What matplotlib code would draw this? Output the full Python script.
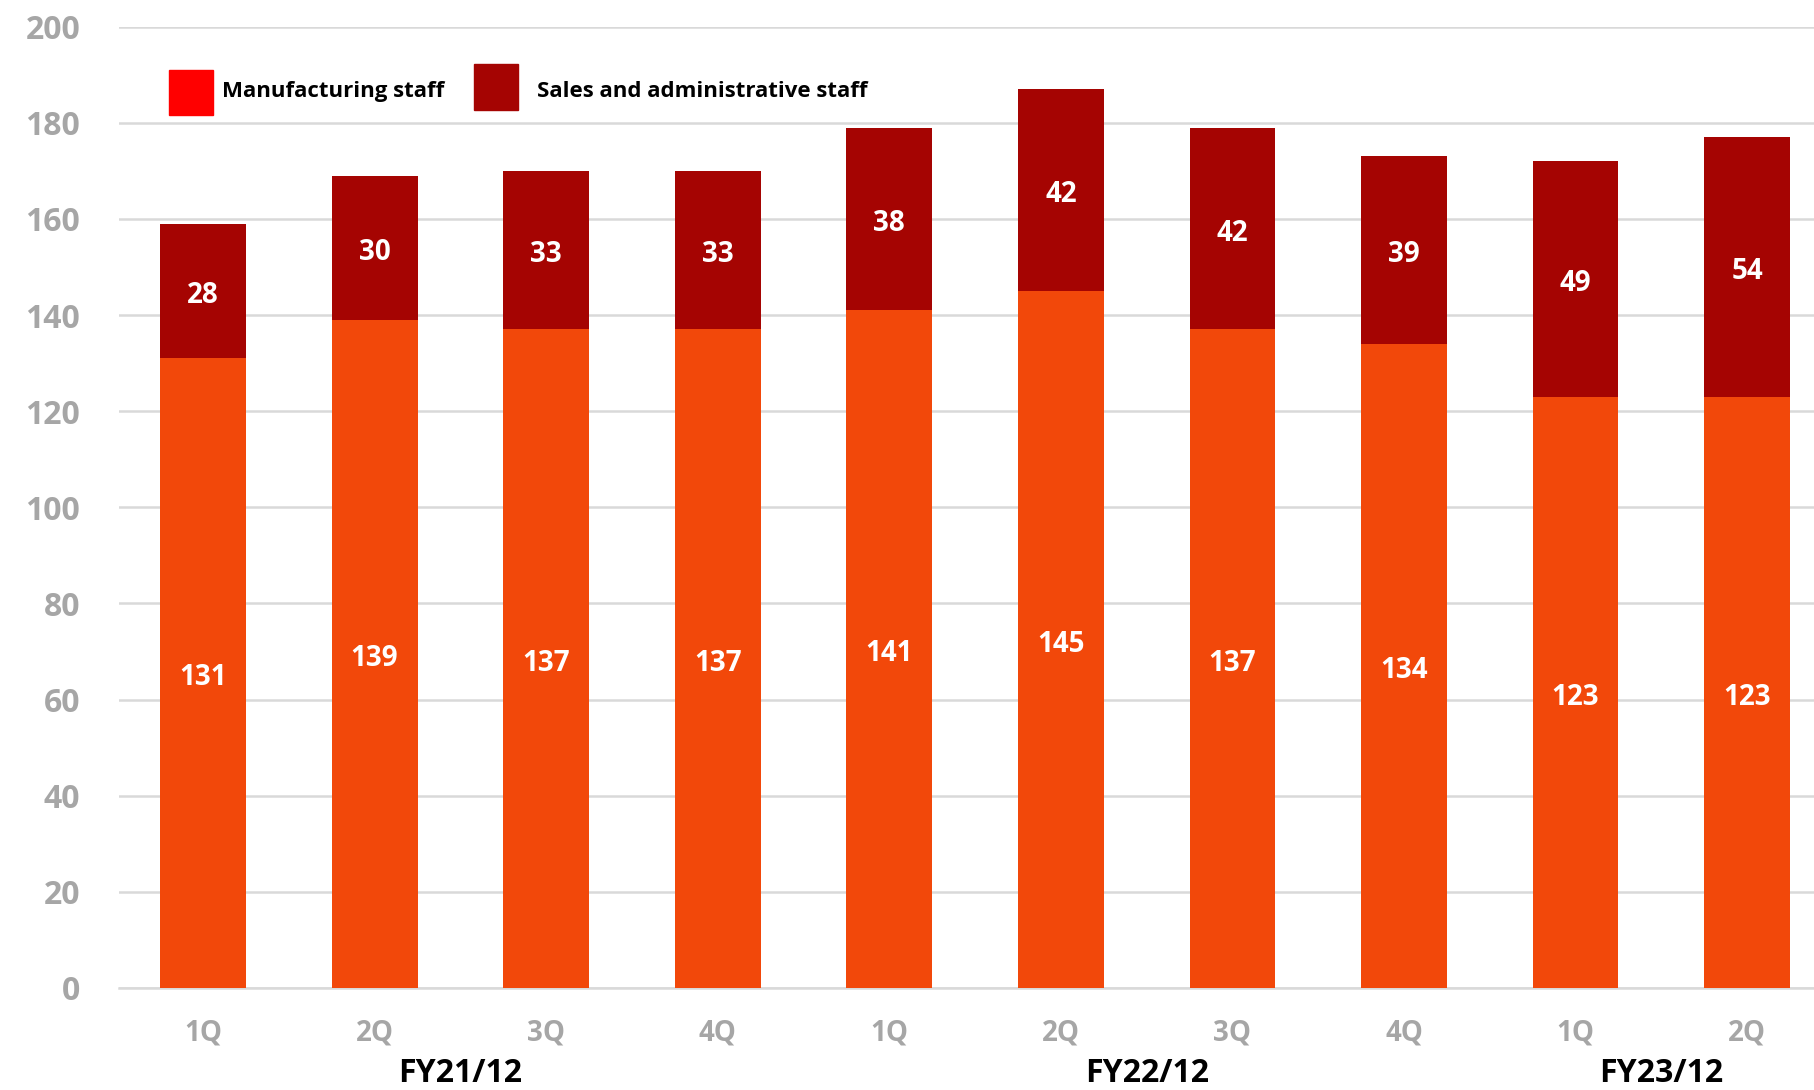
import matplotlib
matplotlib.use("Agg")
import matplotlib.pyplot as plt
from matplotlib.patches import Rectangle

plt.rcParams["font.family"] = ["Open Sans", "DejaVu Sans"]
plt.rcParams["font.weight"] = "bold"

QUARTERS = ["1Q", "2Q", "3Q", "4Q", "1Q", "2Q", "3Q", "4Q", "1Q", "2Q"]
MANUFACTURING = [131, 139, 137, 137, 141, 145, 137, 134, 123, 123]
SALES_ADMIN = [28, 30, 33, 33, 38, 42, 42, 39, 49, 54]
FISCAL_YEARS = ["FY21/12", "FY22/12", "FY23/12"]
FISCAL_YEAR_POS = [1.5, 5.5, 8.5]

MFG_COLOR = "#F2480A"
SALES_COLOR = "#A50402"
LEGEND_MFG_COLOR = "#FF0000"
GRID_COLOR = "#D9D9D9"
TICK_COLOR = "#A6A6A6"

fig = plt.figure(figsize=(18.14, 10.9), dpi=100)
ax = fig.add_axes([0.0656, 0.0936, 0.9344, 0.882])

x = list(range(len(QUARTERS)))
ax.bar(x, MANUFACTURING, width=0.5, color=MFG_COLOR, zorder=3)
ax.bar(x, SALES_ADMIN, width=0.5, bottom=MANUFACTURING, color=SALES_COLOR, zorder=3)

for i, (m, s) in enumerate(zip(MANUFACTURING, SALES_ADMIN)):
    ax.text(i, m / 2 - 1.0, str(m), ha="center", va="center", color="white",
            fontsize=20, fontweight="bold", zorder=4)
    ax.text(i, m + s / 2 - 1.0, str(s), ha="center", va="center", color="white",
            fontsize=20, fontweight="bold", zorder=4)

ax.set_xlim(-0.49, 9.39)
ax.set_ylim(0, 200)
ax.set_yticks(range(0, 201, 20))
ax.yaxis.grid(True, color=GRID_COLOR, linewidth=1.8, zorder=0)
for side in ["top", "right", "left"]:
    ax.spines[side].set_visible(False)
ax.spines["bottom"].set_color(GRID_COLOR)
ax.spines["bottom"].set_linewidth(1.8)
ax.tick_params(axis="y", length=0, pad=28, labelsize=23, labelcolor=TICK_COLOR)
ax.tick_params(axis="x", length=0, pad=22, labelsize=20, labelcolor=TICK_COLOR)
ax.set_xticks(x)
ax.set_xticklabels(QUARTERS)

for pos, label in zip(FISCAL_YEAR_POS, FISCAL_YEARS):
    ax.text(pos, -0.0885, label, transform=ax.get_xaxis_transform(),
            ha="center", va="center", fontsize=23, fontweight="bold", color="black")

# hand-placed legend near the top-left of the plot area
legend_items = [
    (0.0295, 0.908, 0.955, LEGEND_MFG_COLOR, "Manufacturing staff", 0.0608),
    (0.2094, 0.913, 0.961, SALES_COLOR, "Sales and administrative staff", 0.2466),
]
for x0, y0, y1, color, text, tx in legend_items:
    ax.add_patch(Rectangle((x0, y0), 0.026, y1 - y0, transform=ax.transAxes,
                           color=color, clip_on=False, zorder=5))
    ax.text(tx, 0.932, text, transform=ax.transAxes, ha="left", va="center",
            fontsize=16, fontweight="bold", color="black")

fig.savefig("out.png", dpi=100)
